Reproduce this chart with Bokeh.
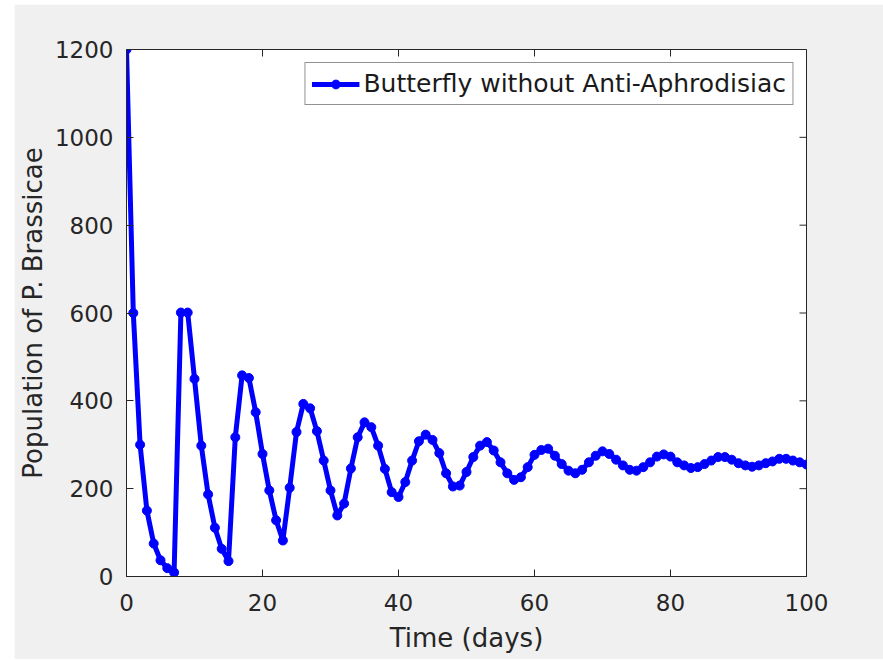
import math
from bokeh.plotting import figure
from bokeh.models import Range1d, FixedTicker, Legend, LegendItem, ColumnDataSource
from bokeh.embed import file_html
from bokeh.resources import INLINE

days = list(range(0, 101))
population = [
    1200, 600, 300, 150, 75, 37, 19, 9, 601, 601,
    450, 298, 187, 111, 63, 35, 317, 458, 452, 374,
    279, 196, 128, 82, 202, 329, 393, 383, 331, 264,
    196, 139, 166, 246, 317, 351, 340, 298, 245, 192,
    181, 215, 264, 308, 323, 311, 281, 235, 205, 207,
    238, 272, 298, 306, 287, 260, 235, 220, 226, 249,
    277, 288, 291, 275, 256, 241, 235, 243, 260, 275,
    285, 279, 266, 253, 243, 241, 249, 260, 273, 278,
    273, 260, 253, 247, 249, 256, 264, 272, 272, 266,
    258, 253, 250, 253, 258, 262, 268, 268, 264, 260,
    255,
]
x_ticks = [0, 20, 40, 60, 80, 100]
y_ticks = [0, 200, 400, 600, 800, 1000, 1200]
series_name = "Butterfly without Anti-Aphrodisiac"
x_label = "Time (days)"
y_label = "Population of P. Brassicae"

FONT = "DejaVu Sans"
AX = "#262626"
BG = "#f0f0f0"

p = figure(width=869, height=655, output_backend="svg", toolbar_location=None,
           x_range=Range1d(0, 100), y_range=Range1d(0, 1200),
           min_border_left=112, min_border_right=77, min_border_top=45, min_border_bottom=83,
           margin=(4, 0, 0, 14))
p.border_fill_color = BG
p.background_fill_color = "white"
p.outline_line_color = AX
p.outline_line_width = 1
p.grid.visible = False

# inward ticks on the top and right edges of the box
p.ray(x=x_ticks, y=[y_ticks[-1]] * len(x_ticks), length=7, length_units="screen",
      angle=-math.pi / 2, line_color=AX, line_width=1)
p.ray(x=[x_ticks[-1]] * len(y_ticks), y=y_ticks, length=7, length_units="screen",
      angle=math.pi, line_color=AX, line_width=1)

src = ColumnDataSource(dict(x=days, y=population))
ln = p.line("x", "y", source=src, line_color="#0000ff", line_width=5)
mk = p.scatter("x", "y", source=src, size=9, fill_color="#0000ff", line_color="#0000ff")

def style(ax):
    ax.axis_line_color = AX
    ax.major_tick_line_color = AX
    ax.major_tick_in = 7
    ax.major_tick_out = 0
    ax.minor_tick_line_color = None
    ax.major_label_text_font = FONT
    ax.major_label_text_color = AX
    ax.major_label_text_font_size = "23px"
    ax.axis_label_text_font = FONT
    ax.axis_label_text_color = AX
    ax.axis_label_text_font_size = "26px"
    ax.axis_label_text_font_style = "normal"

xa = p.xaxis[0]
xa.ticker = FixedTicker(ticks=x_ticks)
xa.axis_label = x_label
style(xa)
xa.major_label_standoff = 17
xa.axis_label_standoff = 9

ya = p.yaxis[0]
ya.ticker = FixedTicker(ticks=y_ticks)
ya.axis_label = y_label
style(ya)
ya.major_label_standoff = 13
ya.axis_label_standoff = 4

legend = Legend(items=[LegendItem(label=series_name, renderers=[ln, mk])],
                location="top_right")
legend.margin = 13
legend.padding = 6
legend.spacing = 0
legend.glyph_width = 48
legend.glyph_height = 22
legend.label_standoff = 4
legend.label_text_font = FONT
legend.label_text_font_size = "25px"
legend.label_text_color = "#1a1a1a"
legend.border_line_color = AX
legend.border_line_width = 1
legend.background_fill_color = "white"
p.add_layout(legend, "center")

open("out.html", "w").write(file_html(p, INLINE))
